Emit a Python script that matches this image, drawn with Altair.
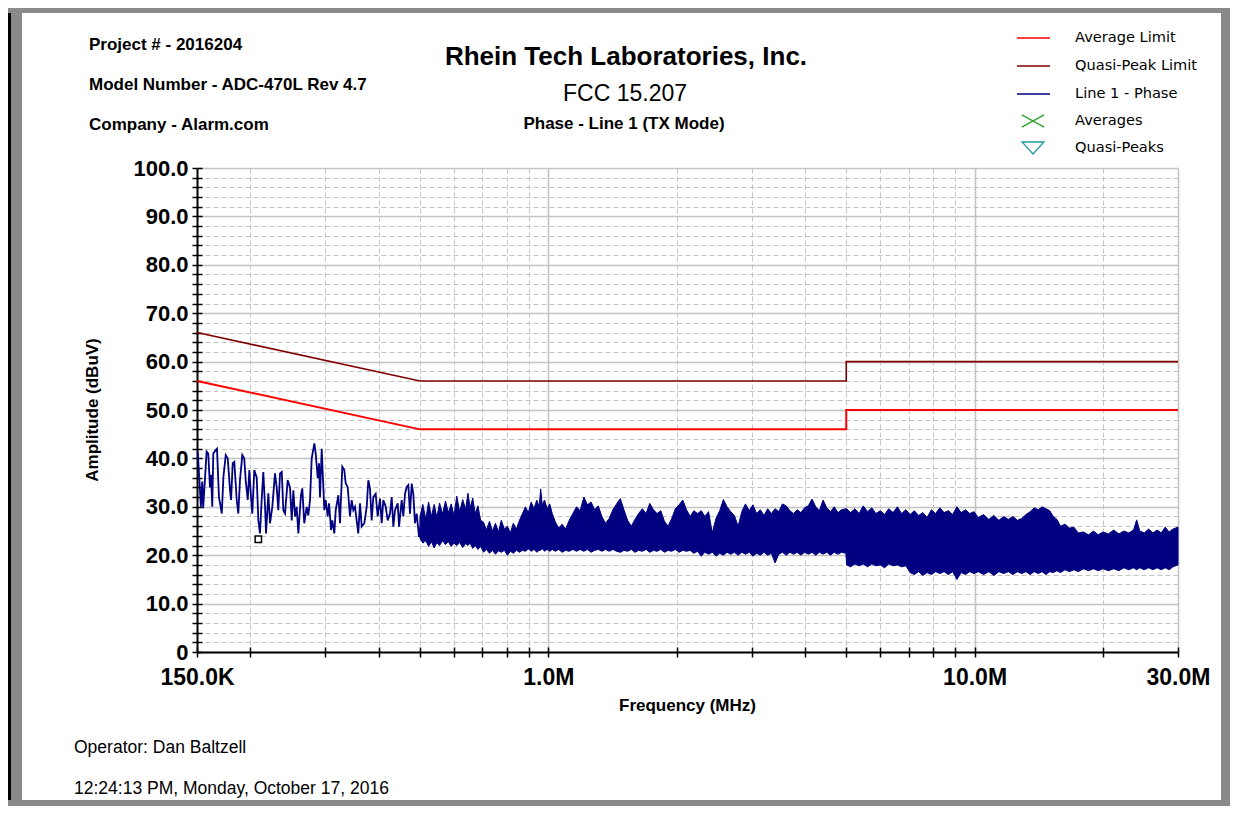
import altair as alt
import pandas as pd

FONT = "Liberation Sans"

# ---- limit lines (MHz, dBuV) ----
LIMIT_F = [0.15, 0.5, 5.0, 5.0, 30.0]
QP_LIMIT = [66.0, 56.0, 56.0, 60.0, 60.0]
AVG_LIMIT = [56.0, 46.0, 46.0, 50.0, 50.0]

# ---- Line 1 - Phase trace, low band (individual wiggles) ----
LOW_F = [0.1506, 0.1532, 0.1543, 0.1551, 0.1580, 0.1594, 0.1609, 0.1618, 0.1629, 0.1638,
         0.1659, 0.1671, 0.1689, 0.1715, 0.1730, 0.1752, 0.1771, 0.1793, 0.1803, 0.1819,
         0.1835, 0.1859, 0.1875, 0.1892, 0.1916, 0.1936, 0.1951, 0.1973, 0.1990, 0.2008,
         0.2022, 0.2044, 0.2071, 0.2089, 0.2108, 0.2127, 0.2146, 0.2166, 0.2178, 0.2205,
         0.2225, 0.2253, 0.2286, 0.2307, 0.2327, 0.2349, 0.2371, 0.2391, 0.2413, 0.2448,
         0.2479, 0.2502, 0.2524, 0.2547, 0.2570, 0.2593, 0.2630, 0.2649, 0.2677, 0.2713,
         0.2736, 0.2762, 0.2787, 0.2827, 0.2848, 0.2879, 0.2899, 0.2915, 0.2942, 0.2958,
         0.2984, 0.3006, 0.3039, 0.3061, 0.3094, 0.3115, 0.3149, 0.3173, 0.3218, 0.3247,
         0.3288, 0.3323, 0.3349, 0.3385, 0.3427, 0.3459, 0.3489, 0.3521, 0.3553, 0.3584,
         0.3618, 0.3651, 0.3703, 0.3751, 0.3784, 0.3818, 0.3853, 0.3887, 0.3937, 0.3980,
         0.4030, 0.4067, 0.4103, 0.4157, 0.4202, 0.4254, 0.4293, 0.4331, 0.4371, 0.4435,
         0.4467, 0.4531, 0.4571, 0.4613, 0.4655, 0.4696, 0.4739, 0.4783, 0.4824, 0.4869,
         0.4914, 0.4976, 0.5030, 0.5093]
LOW_V = [41.4, 30.0, 35.2, 29.7, 41.4, 41.0, 34.0, 36.6, 30.0, 41.0,
         41.7, 42.0, 32.0, 28.6, 36.2, 40.7, 40.0, 33.4, 31.4, 39.0,
         39.3, 31.4, 28.6, 35.5, 40.7, 40.0, 35.5, 31.4, 37.6, 32.0,
         28.6, 37.6, 36.0, 27.2, 24.5, 31.4, 37.2, 30.0, 24.5, 32.8,
         26.6, 30.0, 36.9, 34.0, 29.3, 36.9, 37.2, 29.3, 28.6, 35.5,
         34.0, 27.2, 33.4, 28.0, 30.0, 24.5, 32.4, 33.8, 26.6, 30.0,
         28.2, 31.4, 40.0, 43.1, 41.0, 35.9, 39.0, 32.0, 42.0, 36.9,
         29.3, 31.4, 28.0, 30.7, 25.2, 27.2, 24.5, 29.3, 32.4, 26.6,
         38.3, 37.6, 34.8, 34.1, 28.0, 31.4, 29.3, 30.0, 27.2, 24.5,
         30.7, 25.9, 26.6, 30.0, 35.5, 33.8, 27.2, 32.0, 32.7, 28.0,
         31.7, 26.6, 31.4, 30.0, 27.2, 28.6, 32.0, 25.9, 29.3, 30.7,
         25.9, 31.4, 28.0, 32.7, 34.1, 34.5, 28.6, 34.8, 32.7, 26.6,
         28.6, 23.8, 26.6, 28.6]

# ---- Line 1 - Phase trace, dense band (upper / lower envelope) ----
BAND_F = [0.500, 0.508, 0.516, 0.524, 0.532, 0.540, 0.548, 0.556, 0.565, 0.574,
          0.583, 0.592, 0.601, 0.610, 0.620, 0.630, 0.640, 0.648, 0.656, 0.665,
          0.674, 0.684, 0.694, 0.705, 0.716, 0.728, 0.740, 0.752, 0.764, 0.776,
          0.789, 0.802, 0.815, 0.828, 0.842, 0.856, 0.870, 0.884, 0.898, 0.912,
          0.926, 0.940, 0.952, 0.960, 0.968, 0.980, 0.994, 1.008, 1.022, 1.040,
          1.058, 1.078, 1.098, 1.120, 1.142, 1.165, 1.188, 1.212, 1.236, 1.260,
          1.285, 1.310, 1.336, 1.362, 1.390, 1.418, 1.446, 1.476, 1.505, 1.535,
          1.566, 1.597, 1.629, 1.662, 1.696, 1.730, 1.765, 1.800, 1.836, 1.873,
          1.910, 1.948, 1.987, 2.027, 2.068, 2.110, 2.152, 2.195, 2.240, 2.285,
          2.330, 2.377, 2.425, 2.474, 2.524, 2.575, 2.626, 2.679, 2.733, 2.788,
          2.844, 2.901, 2.960, 3.020, 3.081, 3.143, 3.206, 3.271, 3.337, 3.404,
          3.473, 3.543, 3.614, 3.687, 3.761, 3.837, 3.914, 3.993, 4.074, 4.156,
          4.240, 4.325, 4.412, 4.501, 4.592, 4.685, 4.779, 4.875, 4.990, 5.010,
          5.120, 5.240, 5.360, 5.480, 5.610, 5.740, 5.870, 6.010, 6.150, 6.290,
          6.440, 6.590, 6.740, 6.900, 7.060, 7.220, 7.390, 7.560, 7.740, 7.920,
          8.100, 8.290, 8.480, 8.680, 8.880, 9.090, 9.300, 9.520, 9.740, 9.970,
          10.20, 10.50, 10.80, 11.10, 11.40, 11.70, 12.00, 12.30, 12.60, 12.90,
          13.20, 13.50, 13.80, 14.10, 14.40, 14.70, 15.00, 15.30, 15.60, 15.90,
          16.30, 16.70, 17.10, 17.50, 18.00, 18.50, 19.00, 19.50, 20.00, 20.60,
          21.20, 21.80, 22.40, 23.00, 23.60, 24.00, 24.40, 25.00, 25.60, 26.20,
          26.80, 27.40, 28.00, 28.60, 29.20, 30.00]
BAND_HI = [28.0, 30.5, 27.5, 31.0, 28.0, 30.5, 27.8, 30.8, 28.5, 31.2,
           28.8, 30.6, 28.2, 32.2, 29.0, 31.5, 29.5, 32.8, 29.8, 31.8,
           28.6, 30.2, 27.2, 26.8, 25.2, 27.0, 25.0, 26.6, 24.8, 27.2,
           25.4, 26.0, 24.6, 26.6, 25.4, 27.2, 28.6, 30.0, 28.8, 31.0,
           29.6, 31.4, 30.0, 33.7, 30.4, 31.4, 29.6, 30.6, 28.6, 26.8,
           25.6, 26.4, 25.4, 27.2, 28.6, 30.0, 29.2, 32.0, 30.4, 31.0,
           29.4, 30.2, 28.0, 26.6, 27.6, 29.4, 30.6, 31.7, 29.4, 27.2,
           26.0, 27.4, 28.6, 29.6, 28.6, 30.7, 29.4, 28.6, 29.2, 27.0,
           26.0, 27.6, 29.6, 30.4, 31.4, 29.4, 28.0, 29.2, 28.6, 29.2,
           28.0, 29.0, 24.6, 27.6, 29.2, 31.5, 30.0, 29.0, 28.2, 26.0,
           29.0, 30.6, 29.2, 30.4, 28.6, 29.4, 28.2, 29.6, 28.6, 29.6,
           29.0, 30.6, 30.2, 29.2, 28.6, 29.4, 28.8, 29.8, 30.2, 31.6,
           30.0, 29.2, 31.4, 29.8, 29.0, 30.0, 28.8, 29.4, 29.6, 29.6,
           28.8, 29.6, 28.6, 30.2, 29.0, 29.8, 28.6, 29.2, 28.4, 29.6,
           28.8, 30.0, 28.6, 29.4, 28.4, 29.2, 28.2, 28.8, 27.8, 29.4,
           28.6, 29.8, 28.8, 29.2, 28.4, 30.0, 28.8, 29.4, 28.6, 29.0,
           27.8, 28.4, 27.4, 28.2, 27.2, 28.0, 27.4, 28.0, 27.2, 27.6,
           28.4, 29.0, 29.8, 29.4, 30.0, 29.6, 29.2, 28.0, 27.4, 26.0,
           26.4, 25.6, 25.8, 24.6, 24.8, 24.2, 25.0, 24.2, 24.8, 24.4,
           25.2, 24.4, 25.0, 24.6, 25.2, 27.3, 25.0, 24.6, 25.4, 24.6,
           25.2, 24.6, 25.8, 24.8, 25.4, 25.8]
BAND_LO = [23.5, 22.5, 23.0, 21.8, 22.8, 21.5, 22.6, 22.0, 23.0, 22.2,
           22.8, 21.8, 22.5, 22.0, 22.6, 21.6, 22.4, 22.0, 22.5, 21.4,
           22.0, 21.2, 21.8, 20.6, 21.2, 20.4, 21.0, 20.2, 20.9, 20.6,
           21.0, 20.0, 20.8, 20.4, 21.0, 20.6, 21.0, 20.8, 21.3, 20.8,
           21.2, 20.6, 21.0, 21.0, 21.4, 20.8, 21.2, 20.8, 21.2, 20.8,
           21.2, 20.6, 21.0, 20.8, 21.2, 20.8, 21.2, 20.8, 21.2, 20.6,
           21.0, 21.2, 20.8, 21.2, 20.8, 21.2, 20.8, 20.6, 21.0, 20.8,
           21.2, 20.6, 21.0, 20.8, 21.2, 20.6, 21.0, 20.8, 21.2, 20.6,
           21.0, 20.8, 21.2, 20.6, 21.0, 20.8, 21.0, 20.4, 20.8, 19.8,
           20.6, 20.2, 20.6, 19.8, 20.4, 20.0, 20.6, 20.2, 20.6, 20.0,
           20.6, 20.2, 20.6, 19.8, 20.4, 20.0, 20.6, 20.0, 20.4, 18.4,
           20.2, 20.6, 20.0, 20.6, 20.2, 20.6, 20.0, 20.6, 20.2, 20.6,
           20.0, 20.6, 20.2, 20.6, 20.0, 20.6, 20.2, 20.6, 20.4, 18.0,
           17.6, 18.2, 17.8, 18.2, 17.6, 18.2, 17.8, 18.0, 17.4, 18.2,
           17.8, 18.0, 17.6, 17.8, 16.4, 16.0, 16.6, 15.8, 16.4, 16.0,
           16.6, 16.2, 16.6, 16.0, 16.6, 15.0, 16.4, 16.0, 16.6, 16.2,
           16.6, 16.0, 16.6, 15.8, 16.6, 16.2, 16.6, 16.0, 16.6, 16.2,
           16.6, 16.0, 16.6, 16.2, 16.6, 16.0, 16.6, 16.4, 16.8, 16.4,
           17.0, 16.6, 17.0, 16.6, 17.2, 16.8, 17.2, 16.8, 17.2, 16.8,
           17.2, 16.8, 17.4, 17.0, 17.4, 17.0, 17.4, 17.0, 17.4, 17.0,
           17.4, 17.0, 17.4, 17.0, 17.6, 18.0]

# cursor marker
CURSOR_F = [0.2089]
CURSOR_V = [23.3]

X_TICKS = [0.15, 0.2, 0.3, 0.4, 0.5, 0.6, 0.7, 0.8, 0.9, 1, 2, 3, 4, 5, 6, 7, 8, 9, 10, 20, 30]
Y_TICKS = list(range(0, 101, 2))

HEADER = ["Project # - 2016204", "Model Number - ADC-470L Rev 4.7", "Company - Alarm.com"]
TITLE = "Rhein Tech Laboratories, Inc."
SUB1 = "FCC 15.207"
SUB2 = "Phase - Line 1 (TX Mode)"
LEGEND = ["Average Limit", "Quasi-Peak Limit", "Line 1 - Phase", "Averages", "Quasi-Peaks"]
FOOTER = ["Operator: Dan Baltzell", "12:24:13 PM, Monday, October 17, 2016"]

W, H = 981, 484

xscale = alt.Scale(type="log", domain=[0.15, 30], nice=False)
yscale = alt.Scale(domain=[0, 100], nice=False, zero=False)

MAJOR_X = "datum.value == 1 || datum.value == 10 || datum.value == 30"
x_axis = alt.Axis(
    values=X_TICKS, title=None, orient="bottom",
    labelExpr="datum.value == 0.15 ? '150.0K' : datum.value == 1 ? '1.0M' : datum.value == 10 ? '10.0M' : datum.value == 30 ? '30.0M' : ''",
    labelFont=FONT, labelFontSize=23, labelFontWeight="bold", labelColor="black",
    labelPadding=9, labelFlush=False, labelOverlap=False, labelBound=False,
    domainColor="black", domainWidth=2, tickColor="black", tickSize=5, tickWidth=1.5,
    grid=True, gridColor="#c4c4c4",
    gridDash={"condition": {"test": MAJOR_X, "value": []}, "value": [5, 3]},
    gridWidth={"condition": {"test": MAJOR_X, "value": 1.6}, "value": 1},
)
y_axis = alt.Axis(
    values=Y_TICKS, title=None, orient="left",
    labelExpr="datum.value % 10 == 0 ? (datum.value == 0 ? '0' : format(datum.value, '.1f')) : ''",
    labelFont=FONT, labelFontSize=22, labelFontWeight="bold", labelColor="black",
    labelPadding=4, labelOverlap=False, labelBound=False, labelFlush=False,
    domainColor="black", domainWidth=2, tickColor="black", tickSize=5, tickWidth=1.5,
    grid=True, gridColor="#c4c4c4",
    gridDash={"condition": {"test": "datum.value % 10 == 0", "value": []}, "value": [5, 3]},
    gridWidth={"condition": {"test": "datum.value % 10 == 0", "value": 1.6}, "value": 1},
)
# inward tick axes (ticks crossing the axis lines)
x_in = alt.Axis(values=X_TICKS, orient="top", offset=-H, labels=False, domain=False, grid=False,
                title=None, tickColor="black", tickSize=5, tickWidth=1.5)
y_in = alt.Axis(values=Y_TICKS, orient="right", offset=-W, labels=False, domain=False, grid=False,
                title=None, tickColor="black", tickSize=5, tickWidth=1.5)

lim = pd.DataFrame({"f": LIMIT_F, "qp": QP_LIMIT, "avg": AVG_LIMIT, "i": range(len(LIMIT_F))})
low = pd.DataFrame({"f": LOW_F, "v": LOW_V, "i": range(len(LOW_F))})
band = pd.DataFrame({"f": BAND_F, "hi": BAND_HI, "lo": BAND_LO})
cur = pd.DataFrame({"f": CURSOR_F, "v": CURSOR_V})

avg_line = alt.Chart(lim).mark_line(color="#ff0000", strokeWidth=2).encode(
    x=alt.X("f:Q", scale=xscale, axis=x_axis),
    y=alt.Y("avg:Q", scale=yscale, axis=y_axis),
    order="i:Q")
qp_line = alt.Chart(lim).mark_line(color="#800000", strokeWidth=1.6).encode(
    x=alt.X("f:Q", scale=xscale, axis=x_in),
    y=alt.Y("qp:Q", scale=yscale, axis=y_in),
    order="i:Q")
low_line = alt.Chart(low).mark_line(color="#000080", strokeWidth=1.8).encode(
    x=alt.X("f:Q", scale=xscale, axis=None),
    y=alt.Y("v:Q", scale=yscale, axis=None),
    order="i:Q")
band_area = alt.Chart(band).mark_area(color="#000080", opacity=1, stroke="#000080", strokeWidth=1).encode(
    x=alt.X("f:Q", scale=xscale, axis=None),
    y=alt.Y("lo:Q", scale=yscale, axis=None),
    y2="hi:Q")
cursor = alt.Chart(cur).mark_point(shape="square", size=40, filled=True, fill="white",
                                   stroke="black", strokeWidth=1.5, opacity=1).encode(
    x=alt.X("f:Q", scale=xscale, axis=None),
    y=alt.Y("v:Q", scale=yscale, axis=None))

one = pd.DataFrame({"a": [0]})


def rect(x, x2, y, y2, color):
    return alt.Chart(one).mark_rect(color=color).encode(
        x=alt.value(x), x2=alt.value(x2), y=alt.value(y), y2=alt.value(y2))


def text(t, x, y, size, weight="normal", align="left", font=FONT, angle=0):
    return alt.Chart(pd.DataFrame({"t": [t]})).mark_text(
        align=align, baseline="middle", font=font, fontSize=size, fontWeight=weight,
        color="black", angle=angle).encode(x=alt.value(x), y=alt.value(y), text="t:N")


# window frame (plot origin at page 197,168; canvas spans page 8..1230 x 8..806)
frame_edges = [
    rect(-189, -186, -160, 638, "#000000"),
    rect(-186, -175, -160, 638, "#8a8a8a"),
    rect(-189, 1033, -160, -155, "#8a8a8a"),
    rect(1024, 1033, -160, 638, "#8a8a8a"),
    rect(-189, 1033, 632, 638, "#8a8a8a"),
]

texts = [
    text(HEADER[0], -108, -123, 17, "bold"),
    text(HEADER[1], -108, -83, 17, "bold"),
    text(HEADER[2], -108, -43, 17, "bold"),
    text(TITLE, 429, -111, 26, "bold", "center"),
    text(SUB1, 428, -74, 23, "normal", "center"),
    text(SUB2, 427, -44, 17, "bold", "center"),
    text("Amplitude (dBuV)", -104, H / 2, 17, "bold", "center", angle=270),
    text("Frequency (MHz)", W / 2, 538, 17, "bold", "center"),
    text(FOOTER[0], -123, 580, 17.5),
    text(FOOTER[1], -123, 621, 17.5),
]

leg_y = [-130, -102, -74, -47, -20]
leg_colors = ["#ff0000", "#800000", "#000080"]
legend = []
for k in range(3):
    legend.append(alt.Chart(one).mark_rule(color=leg_colors[k], strokeWidth=1.5).encode(
        x=alt.value(820), x2=alt.value(853), y=alt.value(leg_y[k])))
legend.append(alt.Chart(one).mark_point(shape="M-1,-0.55L1,0.55M-1,0.55L1,-0.55", size=500,
                                        filled=False, color="#2ca02c", strokeWidth=1.3, opacity=1).encode(
    x=alt.value(836), y=alt.value(leg_y[3])))
legend.append(alt.Chart(one).mark_point(shape="M-1,-0.55L1,-0.55L0,0.55Z", size=480,
                                        filled=False, color="#1f9e9e", strokeWidth=1.3, opacity=1).encode(
    x=alt.value(836), y=alt.value(leg_y[4])))
for k in range(5):
    legend.append(text(LEGEND[k], 878, leg_y[k], 14.6, font="DejaVu Sans"))

chart = alt.layer(
    avg_line, qp_line, band_area, low_line, cursor, *frame_edges, *texts, *legend
).resolve_axis(x="independent", y="independent").properties(
    width=W, height=H, padding=0, background="white"
).configure_view(stroke=None)

chart.save("out.html", embed_options={"renderer": "svg", "actions": False})
